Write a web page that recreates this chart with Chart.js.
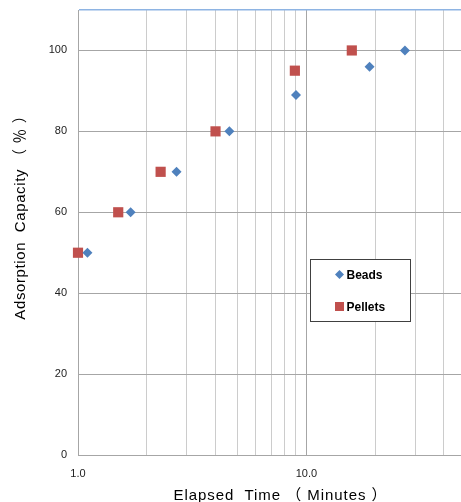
<!DOCTYPE html>
<html>
<head>
<meta charset="utf-8">
<script src="https://cdn.jsdelivr.net/npm/chart.js@4.4.1/dist/chart.umd.min.js"></script>
<style>
  html, body { margin: 0; padding: 0; background: #fff; }
  #wrap { width: 461px; height: 502px; }
</style>
</head>
<body>
<div id="wrap"><canvas id="chart"></canvas></div>
<script>
// Datos
const beadsTime = [1.1, 1.7, 2.7, 4.6, 9.0, 18.9, 27];
const beadsCap = [50, 60, 70, 80, 89, 96, 100];
const pelletsTime = [1.0, 1.5, 2.3, 4.0, 8.9, 15.8];
const pelletsCap = [50, 60, 70, 80, 95, 100];
const xGridValues = [1, 2, 3, 4, 5, 6, 7, 8, 9, 10, 20, 30, 40];
const xLabelValues = [1, 10];
const yTickValues = [0, 20, 40, 60, 80, 100, 110];
const xTitle = 'Elapsed  Time （ Minutes ）';
const yTitle = 'Adsorption  Capacity （ ％ ）';

const toPoints = (xs, ys) => xs.map((x, i) => ({ x: x, y: ys[i] }));

const TITLE_FONT = '15px "Liberation Sans", "Noto Sans CJK JP", sans-serif';

// Dibuja un texto centrado ajustando el espaciado al ancho deseado
function drawSpacedText(ctx, text, width) {
    ctx.letterSpacing = '0px';
    const w0 = ctx.measureText(text).width;
    const sp = Math.max(0, (width - w0) / text.length);
    ctx.letterSpacing = sp + 'px';
    ctx.fillText(text, sp / 2, 0);
    ctx.letterSpacing = '0px';
}

// Títulos de los ejes
const axisTitles = {
    id: 'axisTitles',
    afterDraw(chart) {
        const ctx = chart.ctx;
        ctx.save();
        ctx.font = TITLE_FONT;
        ctx.fillStyle = '#000';
        ctx.textAlign = 'center';
        ctx.textBaseline = 'middle';

        ctx.save();
        ctx.translate(280, 496);
        drawSpacedText(ctx, xTitle, 214);
        ctx.restore();

        ctx.save();
        ctx.translate(21, 214);
        ctx.rotate(-Math.PI / 2);
        drawSpacedText(ctx, yTitle, 212);
        ctx.restore();

        ctx.restore();
    }
};

// Leyenda dentro del área del gráfico
const boxLegend = {
    id: 'boxLegend',
    afterDraw(chart) {
        const ctx = chart.ctx;
        const x0 = 310.5, y0 = 259.5, w = 100, h = 62;
        ctx.save();
        ctx.fillStyle = '#fff';
        ctx.fillRect(x0, y0, w, h);
        ctx.strokeStyle = '#404040';
        ctx.lineWidth = 1;
        ctx.strokeRect(x0, y0, w, h);
        ctx.font = 'bold 12px "Liberation Sans", Arial, sans-serif';
        ctx.textBaseline = 'middle';
        chart.data.datasets.forEach((ds, i) => {
            const cy = y0 + 15 + i * 32;
            const cx = x0 + 29;
            ctx.fillStyle = ds.backgroundColor;
            ctx.beginPath();
            if (ds.pointStyle === 'rectRot') {
                ctx.moveTo(cx, cy - 4.5);
                ctx.lineTo(cx + 4.5, cy);
                ctx.lineTo(cx, cy + 4.5);
                ctx.lineTo(cx - 4.5, cy);
                ctx.closePath();
            } else {
                ctx.rect(cx - 4.5, cy - 4.5, 9, 9);
            }
            ctx.fill();
            ctx.fillStyle = '#000';
            ctx.fillText(ds.label, cx + 7, cy + 1);
        });
        ctx.restore();
    }
};

new Chart(document.getElementById('chart'), {
    type: 'scatter',
    data: {
        datasets: [
            {
                label: 'Beads',
                data: toPoints(beadsTime, beadsCap),
                pointStyle: 'rectRot',
                pointRadius: 5,
                pointHoverRadius: 5,
                backgroundColor: '#4f81bd',
                borderColor: '#4f81bd',
                borderWidth: 0,
                clip: false
            },
            {
                label: 'Pellets',
                data: toPoints(pelletsTime, pelletsCap),
                pointStyle: 'rect',
                pointRadius: 7.2,
                pointHoverRadius: 7.2,
                backgroundColor: '#c0504d',
                borderColor: '#c0504d',
                borderWidth: 0,
                clip: false
            }
        ]
    },
    options: {
        responsive: true,
        maintainAspectRatio: false,
        animation: false,
        layout: { autoPadding: false, padding: { top: 10, right: 0, left: 0, bottom: 0 } },
        plugins: {
            legend: { display: false },
            tooltip: { enabled: false }
        },
        scales: {
            x: {
                type: 'logarithmic',
                min: 1,
                max: 47.5,
                afterBuildTicks: scale => {
                    scale.ticks = xGridValues.map(v => ({ value: v }));
                },
                afterFit: scale => {
                    scale.height = 47;
                    scale.paddingLeft = 0;
                    scale.paddingRight = 0;
                },
                ticks: {
                    autoSkip: false,
                    maxRotation: 0,
                    padding: 12,
                    color: '#222',
                    font: { family: '"Liberation Sans", Arial, sans-serif', size: 11 },
                    callback: v => xLabelValues.includes(v) ? v.toFixed(1) : ''
                },
                grid: {
                    drawTicks: false,
                    color: c => (c.tick && xLabelValues.includes(c.tick.value)) ? '#a6a6a6' : '#cccccc',
                    lineWidth: 1
                },
                border: { color: '#a6a6a6', width: 1 }
            },
            y: {
                min: 0,
                max: 110,
                afterBuildTicks: scale => {
                    scale.ticks = yTickValues.map(v => ({ value: v }));
                },
                afterFit: scale => {
                    scale.width = 78;
                    scale.paddingTop = 0;
                    scale.paddingBottom = 0;
                },
                ticks: {
                    padding: 11,
                    color: '#222',
                    font: { family: '"Liberation Sans", Arial, sans-serif', size: 11 },
                    callback: v => v === 110 ? '' : String(v)
                },
                grid: {
                    drawTicks: false,
                    color: c => (c.tick && c.tick.value === 110) ? '#8eb4e3' : '#a6a6a6',
                    lineWidth: c => (c.tick && c.tick.value === 110) ? 1.5 : 1
                },
                border: { color: '#a6a6a6', width: 1 }
            }
        }
    },
    plugins: [boxLegend, axisTitles]
});
</script>
</body>
</html>
